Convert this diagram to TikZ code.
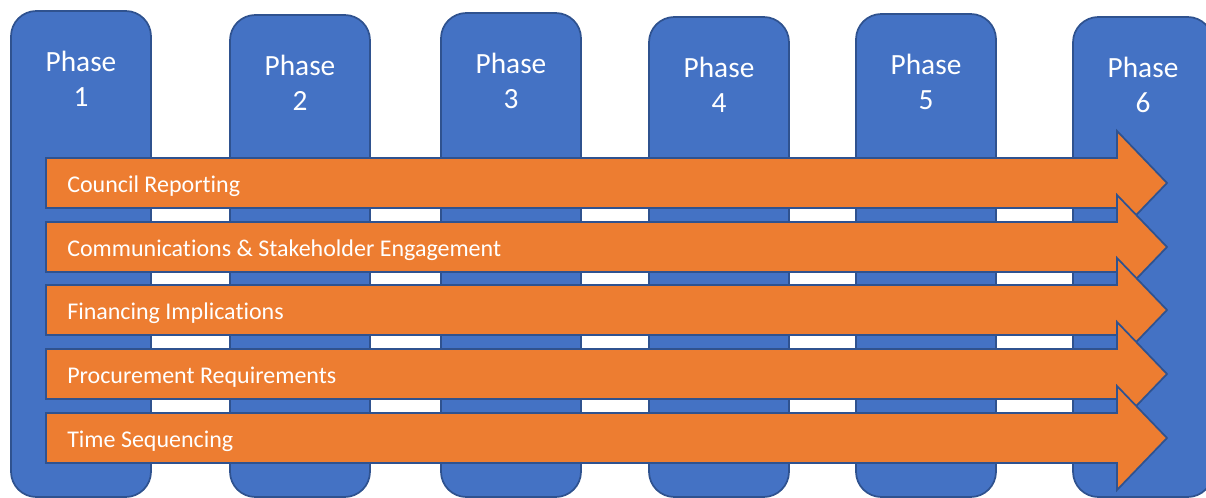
\documentclass[tikz,border=0pt]{standalone}
\usepackage{fontspec}
\setmainfont{Carlito}[Ligatures=CommonOff]
\definecolor{phaseblue}{HTML}{4472C4}
\definecolor{bandorange}{HTML}{ED7D31}
\definecolor{edgeblue}{HTML}{2F528F}
\tikzset{
  phase_box/.style = {fill=phaseblue, draw=edgeblue, line width=1.3pt, rounded corners=19pt},
  phase_txt/.style = {align=center, text=white, inner sep=0pt, anchor=north,
                      font=\fontsize{22}{26.25}\selectfont},
  band/.style = {fill=bandorange, draw=edgeblue, line width=1.3pt, line join=miter},
  band_txt/.style = {anchor=base west, text=white, inner sep=0pt,
                     font=\fontsize{18}{22}\selectfont},
}

\begin{document}
\begin{tikzpicture}[x=0.75pt, y=-0.75pt]
  \useasboundingbox (0,0) rectangle (1206,498);
  % phase columns
  \foreach \x/\t [count=\n] in {11/11, 230/15, 441/13, 649/17, 856/14, 1073/17} {
    \draw [phase_box] (\x,\t) rectangle (\x+140,497);
    \node [phase_txt] (phase\n) at (\x+70,\t+40) {Phase\\\n};
  }
  % workstream arrows
  \foreach \y/\txt [count=\i] in {
      183/Council Reporting,
      247/{Communications \& Stakeholder Engagement},
      310/Financing Implications,
      374/Procurement Requirements,
      438/Time Sequencing} {
    \draw [band] (46,\y-25) -- (1117,\y-25) -- (1117,\y-52) -- (1167,\y)
      -- (1117,\y+52) -- (1117,\y+25) -- (46,\y+25) -- cycle;
    \node [band_txt] (stream\i) at (67,\y+10) {\txt};
  }
\end{tikzpicture}
\end{document}
